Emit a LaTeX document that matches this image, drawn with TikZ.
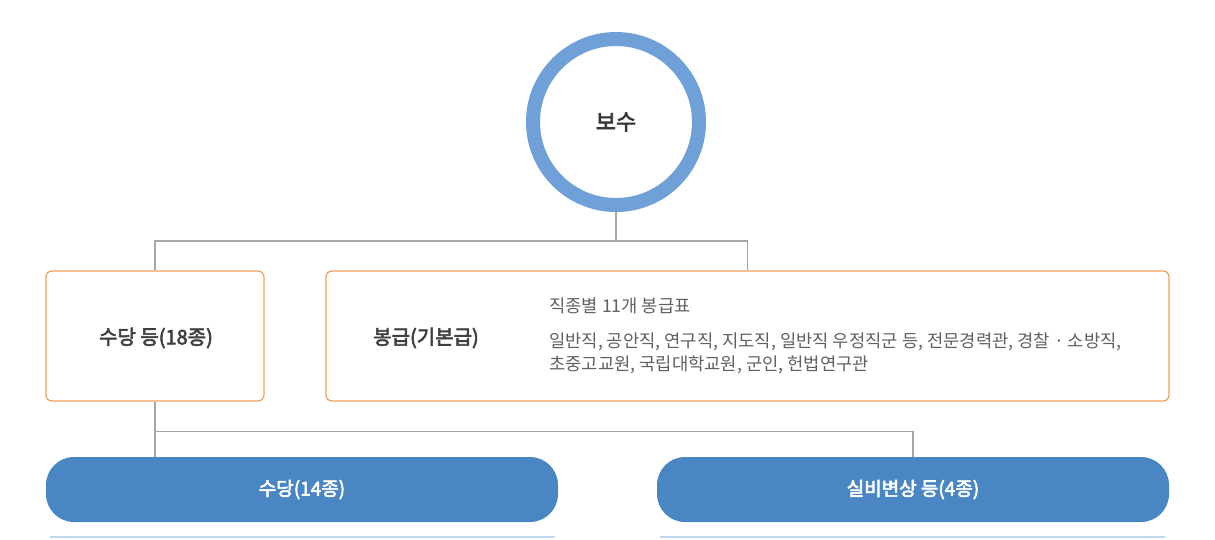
\documentclass[tikz,border=0pt]{standalone}
\usepackage{fontspec}
\setmainfont{Noto Sans CJK KR}
\newfontfamily\medfont[FakeBold=3]{Noto Sans CJK KR}
\usepackage{xcolor}
\definecolor{ringblue}{RGB}{111,160,215}
\definecolor{pillblue}{RGB}{74,134,196}
\definecolor{boxorange}{RGB}{240,160,90}
\definecolor{linegray}{RGB}{165,165,165}
\definecolor{paleblue}{RGB}{189,215,238}
\usetikzlibrary{positioning}

\begin{document}
\begin{tikzpicture}[
            x=1pt, y=-1pt,
            ringnode/.style={shape=circle, draw=ringblue, line width=14pt, minimum size=166pt, inner sep=0pt, text=black!78, font=\fontsize{22}{26}\medfont},
            orangebox/.style={shape=rectangle, rounded corners=6pt, draw=boxorange, line width=1.2pt, fill=white, inner sep=0pt},
            titletext/.style={text=black!75, font=\fontsize{20}{24}\medfont},
            smalltext/.style={text=black!62, font=\fontsize{17.7}{23}\selectfont, anchor=west, inner sep=0pt},
            bluepill/.style={shape=rectangle, rounded corners=28pt, fill=pillblue, minimum width=512pt, minimum height=65pt, text=white, font=\fontsize{19}{23}\medfont},
            connline/.style={draw=linegray, line width=1.1pt}
            ]

            \useasboundingbox (0,0) rectangle (1215,539);

            % Top circle
            \node[ringnode] (bosu) at (616,122) {보수};

            % Orange boxes
            \node[orangebox, minimum width=218pt, minimum height=130pt] (sudang) at (155,336) {};
            \node[titletext] (sudangtext) at (156,338) {수당 등(18종)};
            \node[orangebox, minimum width=843pt, minimum height=130pt] (bonggeup) at (747.5,336) {};
            \node[titletext] (bonggeuptext) at (426,338) {봉급(기본급)};
            \node[smalltext] (pyo) at (549,306) {직종별 11개 봉급표};
            \node[smalltext, align=left] (jikjong) at (549,353) {일반직, 공안직, 연구직, 지도직, 일반직 우정직군 등, 전문경력관, 경찰 · 소방직,\\초중고교원, 국립대학교원, 군인, 헌법연구관};

            % Blue pills
            \node[bluepill] (sudangpill) at (302,489.5) {수당(14종)};
            \node[bluepill] (silbipill) at (913,489.5) {실비변상 등(4종)};

            % Connectors
            \draw[connline] (bosu.south) -- ++(0,29) coordinate (upperjoint);
            \draw[connline] (sudang.north) |- (upperjoint) -| (bonggeup.north);
            \draw[connline] (sudang.south) -- ++(0,30) coordinate (lowerjoint);
            \draw[connline] (lowerjoint) -- (lowerjoint |- sudangpill.north);
            \draw[connline] (lowerjoint) -| (silbipill.north);

            % Next row, cut off
            \begin{scope}
                \clip (0,0) rectangle (1215,539);
                \draw[paleblue, line width=1.5pt] (50,537) -- (555,537);
                \draw[paleblue, line width=1.5pt] (660,537) -- (1165,537);
            \end{scope}
\end{tikzpicture}
\end{document}
